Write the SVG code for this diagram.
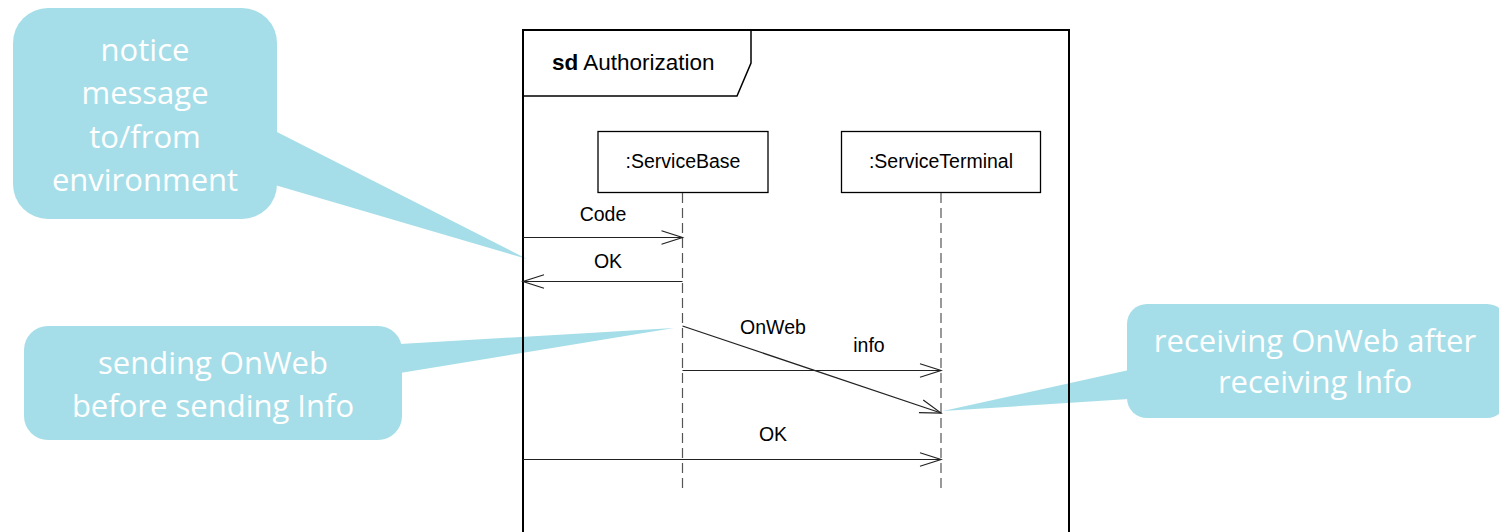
<svg xmlns="http://www.w3.org/2000/svg" width="1499" height="532" viewBox="0 0 1499 532">
<style>
.note{fill:#A5DEE8;}
.nt{fill:#FFFFFF;font-family:"Open Sans","Liberation Sans",sans-serif;font-size:31px;text-anchor:middle;}
.lbl{fill:#000;font-family:"Liberation Sans",Arial,sans-serif;font-size:19.5px;}
.box{fill:#FFFFFF;stroke:#000;stroke-width:1.3;}
.life{stroke:#555;stroke-width:1.2;stroke-dasharray:10,5;fill:none;}
.msg{stroke:#222;stroke-width:1.2;fill:none;marker-end:url(#open);}
</style>
<defs>
<marker id="open" markerUnits="userSpaceOnUse" viewBox="-23 -9 25 18" refX="0" refY="0" markerWidth="25" markerHeight="18" orient="auto">
<path d="M-21,-6.7 L0,0 L-21,6.7" fill="none" stroke="#222" stroke-width="1.2"/>
</marker>
</defs>
<rect width="1499" height="532" fill="#FFFFFF"/>

<g id="note-environment">
<rect class="note" x="13" y="8" width="264" height="211" rx="35"/>
<polygon class="note" points="275,131 527,259 275,185"/>
<text class="nt" x="145" y="61">notice</text>
<text class="nt" x="145" y="104">message</text>
<text class="nt" x="145" y="148">to/from</text>
<text class="nt" x="145" y="191">environment</text>
</g>

<g id="note-sending">
<rect class="note" x="24" y="326" width="378" height="114" rx="24"/>
<polygon class="note" points="400,344 674,328 400,373"/>
<text class="nt" x="213" y="374">sending OnWeb</text>
<text class="nt" x="213" y="417">before sending Info</text>
</g>

<g id="note-receiving">
<rect class="note" x="1127" y="304" width="380" height="114" rx="20"/>
<polygon class="note" points="1129,370 943,411 1129,399"/>
<text class="nt" x="1315" y="352">receiving OnWeb after</text>
<text class="nt" x="1315" y="393">receiving Info</text>
</g>

<g id="frame">
<path d="M523,540 V30 H1069 V540" fill="none" stroke="#000" stroke-width="2"/>
<path d="M523,96 H737 L751,63 V30" fill="none" stroke="#000" stroke-width="1.5"/>
<text x="552" y="70" font-family="Liberation Sans, Arial, sans-serif" font-size="22.5"><tspan font-weight="bold">sd</tspan> Authorization</text>
</g>

<g id="ServiceBase">
<rect class="box" x="598" y="131.5" width="170" height="61"/>
<text class="lbl" x="683" y="168" text-anchor="middle">:ServiceBase</text>
<line class="life" x1="682.5" y1="193" x2="682.5" y2="492"/>
</g>

<g id="ServiceTerminal">
<rect class="box" x="841.5" y="131.5" width="199" height="61"/>
<text class="lbl" x="941" y="168" text-anchor="middle">:ServiceTerminal</text>
<line class="life" x1="941" y1="193" x2="941" y2="492"/>
</g>

<g id="connectors">
<line class="msg" x1="523" y1="237.5" x2="682.5" y2="237.5"/>
<text class="lbl" x="603" y="221" text-anchor="middle">Code</text>
<line class="msg" x1="682.5" y1="281.5" x2="523" y2="281.5"/>
<text class="lbl" x="608" y="268" text-anchor="middle">OK</text>
<line class="msg" x1="682.5" y1="326" x2="941" y2="413"/>
<text class="lbl" x="773" y="334" text-anchor="middle">OnWeb</text>
<line class="msg" x1="682.5" y1="370.5" x2="941" y2="370.5"/>
<text class="lbl" x="869" y="352" text-anchor="middle">info</text>
<line class="msg" x1="523" y1="459.5" x2="941" y2="459.5"/>
<text class="lbl" x="773" y="441" text-anchor="middle">OK</text>
</g>
</svg>
